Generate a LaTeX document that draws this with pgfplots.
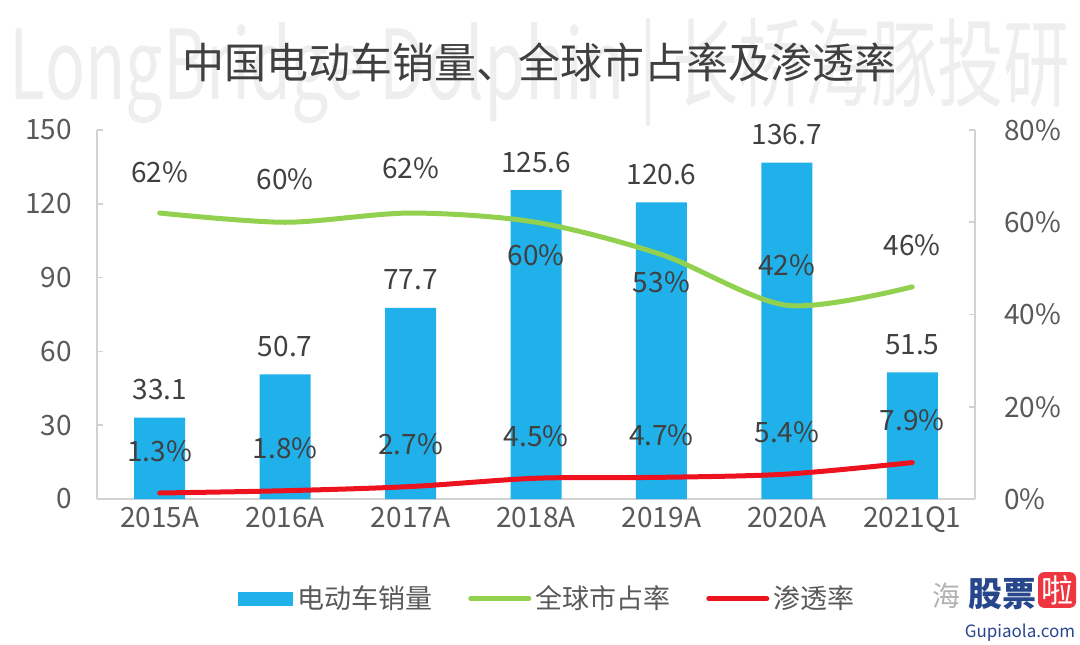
\documentclass[border=0pt]{standalone}
\usepackage{pgfplots}
\pgfplotsset{compat=1.18}
\usepackage{pgfplotstable}
\usepackage{graphicx}
\usepackage{fontspec}
\setmainfont{Noto Sans CJK SC}
\definecolor{barblue}{RGB}{32,176,234}
\definecolor{lgreen}{RGB}{146,208,80}
\definecolor{lred}{RGB}{236,18,30}
\definecolor{txt}{RGB}{64,64,64}
\definecolor{tickc}{RGB}{89,89,89}
\definecolor{axgray}{RGB}{210,210,210}
\definecolor{wm}{RGB}{238,238,238}
\definecolor{gpblue}{RGB}{40,70,140}

\pgfplotstableread{
x sales
0 33.1
1 50.7
2 77.7
3 125.6
4 120.6
5 136.7
6 51.5
}\salestab

\pgfplotstableread{
x share dy
0 62 20.5
1 60 21.5
2 62 22.5
3 60 -16.5
4 53 -14
5 42 20
6 46 21
}\sharetab

\pgfplotstableread{
x pen
0 1.3
1 1.8
2 2.7
3 4.5
4 4.7
5 5.4
6 7.9
}\pentab

\begin{document}
\begin{tikzpicture}
\path[use as bounding box] (0pt,0pt) rectangle (540pt,322pt);
% watermark
\node[text=wm, inner sep=0pt] at (270pt,286pt) {\resizebox*{530pt}{54pt}{LongBridge Dolphin | 长桥海豚投研}};
% title
\node[text=txt, font=\fontsize{21}{25}\selectfont] at (269.5pt,291pt) {中国电动车销量、全球市占率及渗透率};

\begin{axis}[
  at={(48.5pt,72.5pt)}, anchor=south west, scale only axis,
  width=439pt, height=184.5pt,
  xmin=-0.5, xmax=6.5, ymin=0, ymax=150,
  ytick={0,30,...,150},
  xtick={0,...,6},
  xticklabels={2015A,2016A,2017A,2018A,2019A,2020A,2021Q1},
  axis x line*=bottom, axis y line*=left,
  axis line style={-, draw=axgray, line width=1pt},
  tick align=inside, major tick length=3pt,
  tick style={axgray, line width=0.8pt},
  xtick style={draw=none},
  ticklabel style={font=\fontsize{14}{16}\selectfont, text=tickc},
  yticklabel style={xshift=-9pt},
  xticklabel style={yshift=2.5pt},
  /pgf/number format/assume math mode=true,
  /pgf/number format/fixed, /pgf/number format/precision=1,
  ybar, bar width=25.5pt,
  nodes near coords,
  every node near coord/.append style={font=\fontsize{14}{16}\selectfont, text=txt, anchor=center, yshift=14pt},
  legend style={at={(0.514,-0.27)}, anchor=center, draw=none, fill=none,
    legend columns=-1, font=\fontsize{13.5}{16}\selectfont, text=tickc,
    /tikz/every even column/.append style={column sep=16pt}},
]
\addplot[fill=barblue, draw=none,
  legend image code/.code={\fill[barblue] (0pt,-3.5pt) rectangle (27.5pt,3.5pt);}]
  table[x=x, y=sales]{\salestab};
\addlegendentry{电动车销量}
\addlegendimage{lgreen, line width=2.5pt, legend image code/.code={\draw[lgreen, line width=2.5pt, line cap=round] (0pt,0pt) -- (29pt,0pt);}}
\addlegendentry{全球市占率}
\addlegendimage{lred, line width=2.5pt, legend image code/.code={\draw[lred, line width=2.5pt, line cap=round] (0pt,0pt) -- (29pt,0pt);}}
\addlegendentry{渗透率}
\end{axis}

\begin{axis}[
  at={(48.5pt,72.5pt)}, anchor=south west, scale only axis,
  width=439pt, height=184.5pt,
  xmin=-0.5, xmax=6.5, ymin=0, ymax=80,
  ytick={0,20,...,80},
  yticklabel={\pgfmathprintnumber{\tick}\%},
  axis x line=none, axis y line*=right,
  axis line style={-, draw=axgray, line width=1pt},
  tick align=inside, major tick length=3pt,
  tick style={axgray, line width=0.8pt},
  ticklabel style={font=\fontsize{14}{16}\selectfont, text=tickc},
  yticklabel style={xshift=11pt},
  /pgf/number format/assume math mode=true,
  /pgf/number format/fixed, /pgf/number format/precision=1,
]
\addplot[lgreen, line width=2.5pt, line cap=round, smooth,
  point meta=explicit,
  visualization depends on={\thisrow{dy} \as \dy},
  nodes near coords={\pgfmathprintnumber{\pgfplotspointmeta}\%},
  every node near coord/.append style={font=\fontsize{14}{16}\selectfont, text=txt, anchor=center, yshift=\dy pt}]
  table[x=x, y=share, meta=share]{\sharetab};
\addplot[lred, line width=2.5pt, line cap=round, smooth,
  point meta=explicit,
  nodes near coords={\pgfmathprintnumber{\pgfplotspointmeta}\%},
  every node near coord/.append style={font=\fontsize{14}{16}\selectfont, text=txt, anchor=center, yshift=21pt}]
  table[x=x, y=pen, meta=pen]{\pentab};
\end{axis}

% bottom-right site mark
\node[text=gray!60, font=\fontsize{14}{16}\selectfont] at (473pt,24pt) {海};
\node[text=gpblue, font=\fontsize{17}{19}\selectfont\bfseries] at (501pt,25pt) {股票};
\node[fill=lred!85!white, text=white, rounded corners=3pt, inner sep=1.5pt, font=\fontsize{16}{18}\selectfont] at (528.5pt,27pt) {啦};
\node[text=gpblue, font=\fontsize{8.5}{9}\selectfont] at (510pt,5.5pt) {Gupiaola.com};
\end{tikzpicture}
\end{document}
